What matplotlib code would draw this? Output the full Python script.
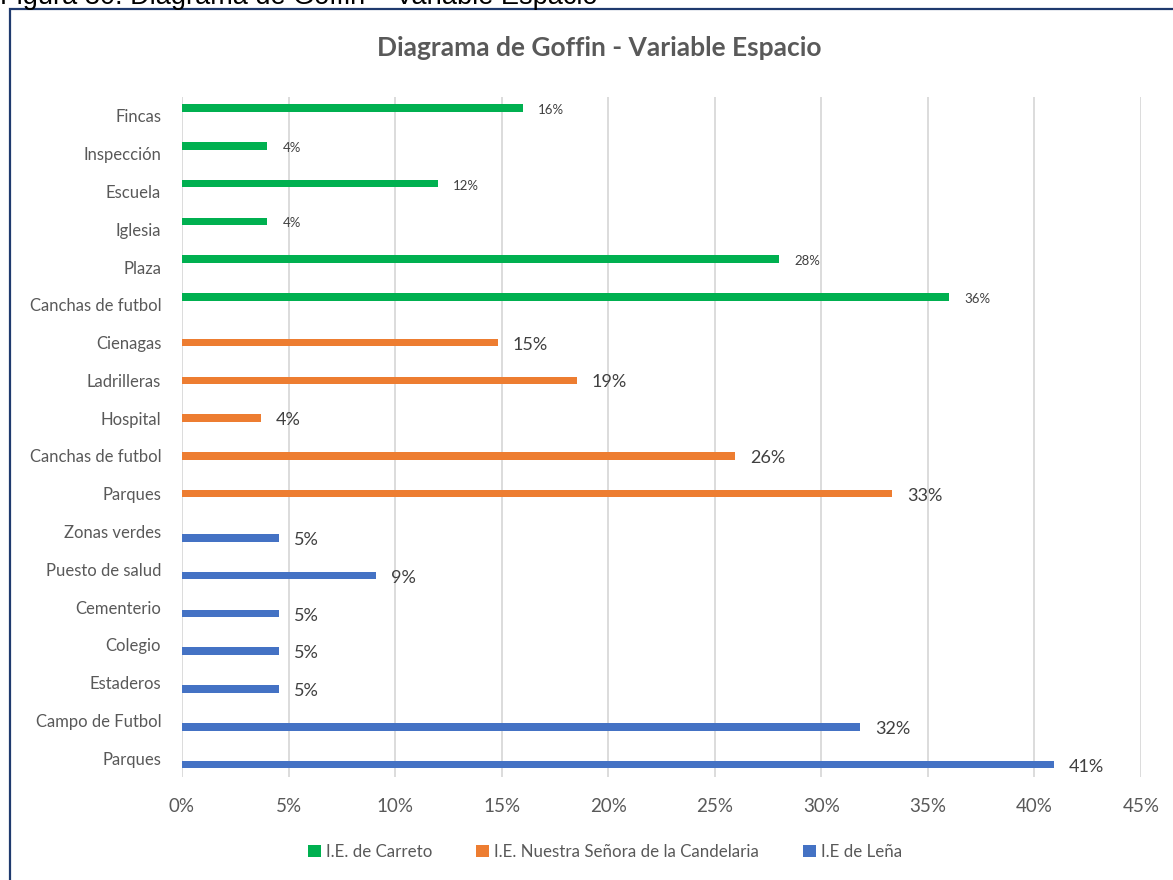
import numpy as np
import matplotlib
matplotlib.use("Agg")
import matplotlib.pyplot as plt
from matplotlib.patches import Rectangle

plt.rcParams['font.family'] = ['Lato', 'DejaVu Sans']

# categories, top to bottom
categories = ['Fincas', 'Inspección', 'Escuela', 'Iglesia', 'Plaza', 'Canchas de futbol',
              'Cienagas', 'Ladrilleras', 'Hospital', 'Canchas de futbol', 'Parques',
              'Zonas verdes', 'Puesto de salud', 'Cementerio', 'Colegio', 'Estaderos',
              'Campo de Futbol', 'Parques']

# percentages per school (None = no bar in that category)
carreto = [16, 4, 12, 4, 28, 36] + [None] * 12
candelaria = [None] * 6 + [14.81, 18.52, 3.70, 25.93, 33.33] + [None] * 7
lena = [None] * 11 + [4.55, 9.09, 4.55, 4.55, 4.55, 31.82, 40.91]

series = [
    ('I.E. de Carreto', carreto, '#00B050', -0.21, 9.5),
    ('I.E. Nuestra Señora de la Candelaria', candelaria, '#ED7D31', 0.0, 13),
    ('I.E de Leña', lena, '#4472C4', 0.17, 13),
]

fig = plt.figure(figsize=(11.73, 8.8), dpi=100)

# caption above the chart box (cut by the page edge)
fig.text(0.0, 1 - 4 / 880, 'Figura 30. Diagrama de Goffin – Variable Espacio',
         family='Liberation Sans', fontsize=19.5, color='black', ha='left', va='baseline')

# chart border
fig.patches.append(Rectangle((10 / 1173, -0.1), 1.2, 1.1 - 9 / 880, transform=fig.transFigure,
                             fill=False, edgecolor='#1F3A6E', linewidth=1.6))

ax = fig.add_axes([182 / 1173, 1 - 777 / 880, 959 / 1173, 680 / 880])

y = np.arange(len(categories))
for name, vals, color, off, fs in series:
    idx = [i for i, v in enumerate(vals) if v is not None]
    w = [vals[i] / 100 for i in idx]
    ax.barh(y[idx] + off, w, height=0.2, color=color, label=name)
    for i, v in zip(idx, w):
        ax.annotate(f'{int(v * 100 + 0.5)}%', (v, i + off), xytext=(11, -1.5),
                    textcoords='offset points', ha='left', va='center', fontsize=fs,
                    color='#404040')

ax.set_xlim(0, 0.45)
ax.set_ylim(len(categories) - 0.5, -0.5)
ax.set_xticks(np.arange(0, 0.4501, 0.05))
ax.set_xticklabels([f'{t}%' for t in range(0, 46, 5)])
ax.set_yticks(y)
ax.set_yticklabels(categories)
ax.tick_params(axis='both', length=0, colors='#595959', labelcolor='#595959')
ax.tick_params(axis='y', labelsize=12, pad=15)
ax.tick_params(axis='x', labelsize=13.5, pad=15)
ax.grid(axis='x', color='#D9D9D9', linewidth=1.3)
ax.set_axisbelow(True)
for s in ax.spines.values():
    s.set_visible(False)

fig.text(599 / 1173, 1 - 48 / 880, 'Diagrama de Goffin - Variable Espacio',
         fontsize=19, fontweight='bold', color='#595959', ha='center', va='center')

fig.legend(loc='center', bbox_to_anchor=(605 / 1173, 1 - 852 / 880), ncol=3, frameon=False,
           fontsize=12.2, labelcolor='#595959', handlelength=0.75, handleheight=0.75,
           handletextpad=0.3, columnspacing=2.6)

fig.savefig('out.png', dpi=100)
